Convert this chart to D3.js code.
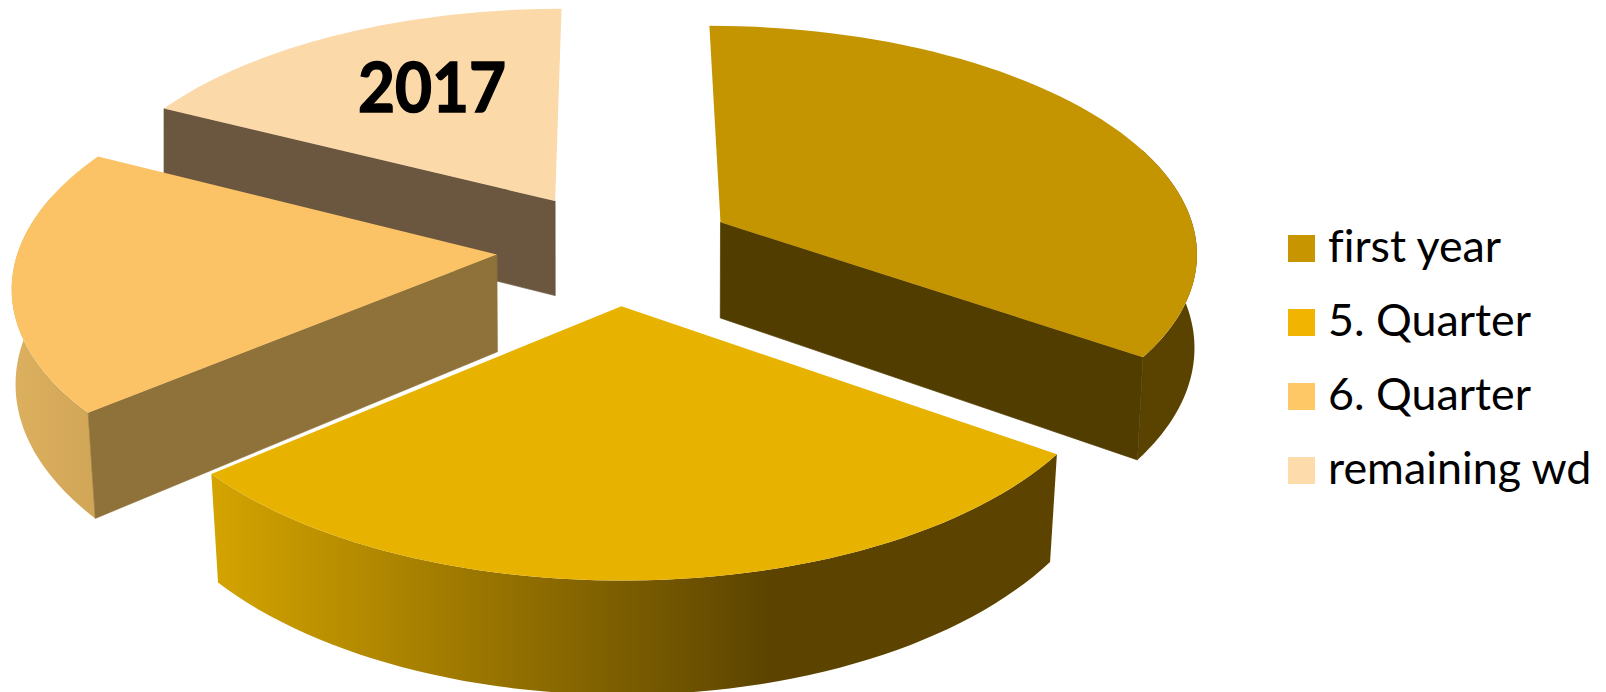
<!DOCTYPE html>
<html><head><meta charset="utf-8">
<script src="https://cdnjs.cloudflare.com/ajax/libs/d3/7.8.5/d3.min.js"></script>
<style>html,body{margin:0;padding:0;background:#fff}svg{display:block}text{font-variant-ligatures:none}</style>
</head><body><svg id="c" width="1606" height="692"></svg>
<script>
// Data
const categories = ["first year","5. Quarter","6. Quarter","remaining wd"];
const values = [34.7,29.2,18.6,17.5];
const title = "2017";
const legendColors = ["#c69500","#f1b400","#fec866","#fedbab"];
const topColors = ["#c49500","#e8b200","#fcc366","#fbd9a9"];
const sideColors = [["#5a4300","#5a4300"],["#d4a400","#5c4400"],["#dcb05e","#d0a556"],["#c0a47c","#c0a47c"]];
const cutColors = ["#523d00","#523d00","#8f723a","#6b5740"];
const drawOrder = [3,2,0,1];

const view={cx:616,cy:248,a:226,b:478,k:0.1206,explode:0.25,depth:97,shrink0:0.004,shrink1:0.014};
const wallFrom=70*Math.PI/180, wallTo=285*Math.PI/180;
const svg=d3.select("#c");
const defs=svg.append("defs");
const pie=d3.pie().sort(null).startAngle(0).endAngle(2*Math.PI)(values);

function project(X,Y,z){
  const s=1/(1+view.k*Y);
  const sh=Math.max(0,view.shrink0-view.shrink1*Y);
  return [view.cx+view.b*X*s*(1-sh*z), view.cy-view.a*Y*s+view.depth*s*z];
}
const line=d3.line();
pie.forEach((d,i)=>{d.cat=categories[i];d.i=i;
  const mid=(d.startAngle+d.endAngle)/2;
  d.ox=view.explode*Math.sin(mid);d.oy=view.explode*Math.cos(mid);
  d.at=(t,r,z)=>project(d.ox+r*Math.sin(t),d.oy+r*Math.cos(t),z);
  d.arc=(z,a0,a1)=>d3.range(0,61).map(j=>d.at(a0+(a1-a0)*j/60,1,z));
  d.mid=mid;
});
const g=svg.append("g");
drawOrder.forEach(idx=>{
  const d=pie[idx];
  const top=d.arc(0,d.startAngle,d.endAngle);
  const a0=Math.max(d.startAngle,wallFrom),a1=Math.min(d.endAngle,wallTo);
  if(a1>a0){
    const wt=d.arc(0,a0,a1),wb=d.arc(1,a0,a1);
    const gid="side"+idx;
    const xs=top.map(p=>p[0]);
    const grad=defs.append("linearGradient").attr("id",gid).attr("gradientUnits","userSpaceOnUse")
      .attr("x1",d3.min(xs)).attr("x2",idx===1?d3.min(xs)+(d3.max(xs)-d3.min(xs))*0.66:d3.max(xs)).attr("y1",0).attr("y2",0);
    grad.append("stop").attr("offset",0).attr("stop-color",sideColors[idx][0]);
    grad.append("stop").attr("offset",1).attr("stop-color",sideColors[idx][1]);
    g.append("path").attr("d",line(wt.concat(wb.slice().reverse()))+"Z").attr("fill",`url(#${gid})`);
  }
  const A=d.at(0,0,0),Ab=d.at(0,0,1),M=d.at(d.mid,1,0);
  [d.startAngle,d.endAngle].forEach(t=>{
    const O=d.at(t,1,0),Ob=d.at(t,1,1);
    const ex=O[0]-A[0],ey=O[1]-A[1];
    const cm=ex*(M[1]-A[1])-ey*(M[0]-A[0]);
    if(ex*cm<0 && Math.abs(ex)>0.2*Math.abs(ey)){
      g.append("path").attr("d",line([A,O,Ob,Ab])+"Z").attr("fill",cutColors[idx]).attr("stroke",cutColors[idx]).attr("stroke-width",0.7);
    }
  });
  g.append("path").attr("class","slice").attr("d",line([A].concat(top))+"Z").attr("fill",topColors[idx]);
});
svg.append("text").text(title).attr("x",358).attr("y",112).attr("font-family","Lato").attr("font-weight",700).attr("font-size",68).attr("textLength",148).attr("lengthAdjust","spacingAndGlyphs").attr("fill","#000").attr("stroke","#000").attr("stroke-width",1.5);
const lg=svg.append("g").selectAll("g").data(categories).enter().append("g")
  .attr("transform",(d,i)=>`translate(1288,${235+i*74})`);
lg.append("rect").attr("width",27).attr("height",27).attr("fill",(d,i)=>legendColors[i]);
lg.append("text").text(d=>d).attr("x",40).attr("y",27).attr("font-family","Lato").attr("font-size",44.8).attr("fill","#000");
</script></body></html>
